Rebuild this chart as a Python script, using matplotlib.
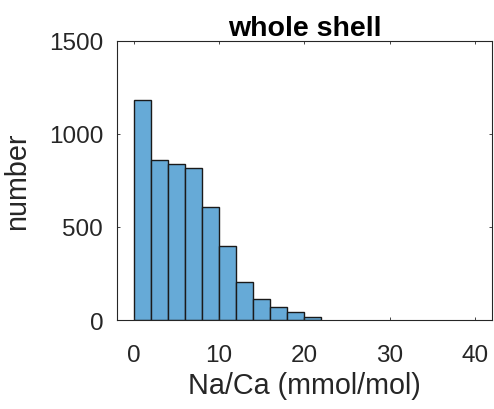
import numpy as np
import matplotlib.pyplot as plt

plt.rcParams['font.family'] = ['Liberation Sans', 'DejaVu Sans']

# histogram of Na/Ca, bin width 2
bin_edges = [0, 2, 4, 6, 8, 10, 12, 14, 16, 18, 20, 22]
counts = [1180, 862, 836, 818, 605, 398, 203, 112, 68, 42, 15]

fig = plt.figure(figsize=(4.94, 4.10), dpi=100)
ax = fig.add_axes([0.237, 0.217, 0.759, 0.681])

ax.bar(bin_edges[:-1], counts, width=2, align='edge', facecolor='#66aad7',
       edgecolor='#1a1a1a', linewidth=1.0)

ax.set_xlim(-1.95, 42)
ax.set_ylim(0, 1500)
ax.set_xticks([0, 10, 20, 30, 40])
ax.set_yticks([0, 500, 1000, 1500])

ax.tick_params(direction='in', length=2.5, width=0.6, labelsize=17.5,
               colors='#262626', top=True, right=True)
ax.tick_params(axis='y', pad=10)
ax.tick_params(axis='x', pad=17)
for s in ax.spines.values():
    s.set_color('#262626')
    s.set_linewidth(0.8)

ax.set_xlabel('Na/Ca (mmol/mol)', fontsize=20.7, color='#262626', labelpad=4)
ax.set_ylabel('number', fontsize=20.7, color='#262626', labelpad=13)
ax.set_title('whole shell', fontsize=20.5, fontweight='bold', color='black', pad=4)

fig.savefig('out.png', dpi=100)
